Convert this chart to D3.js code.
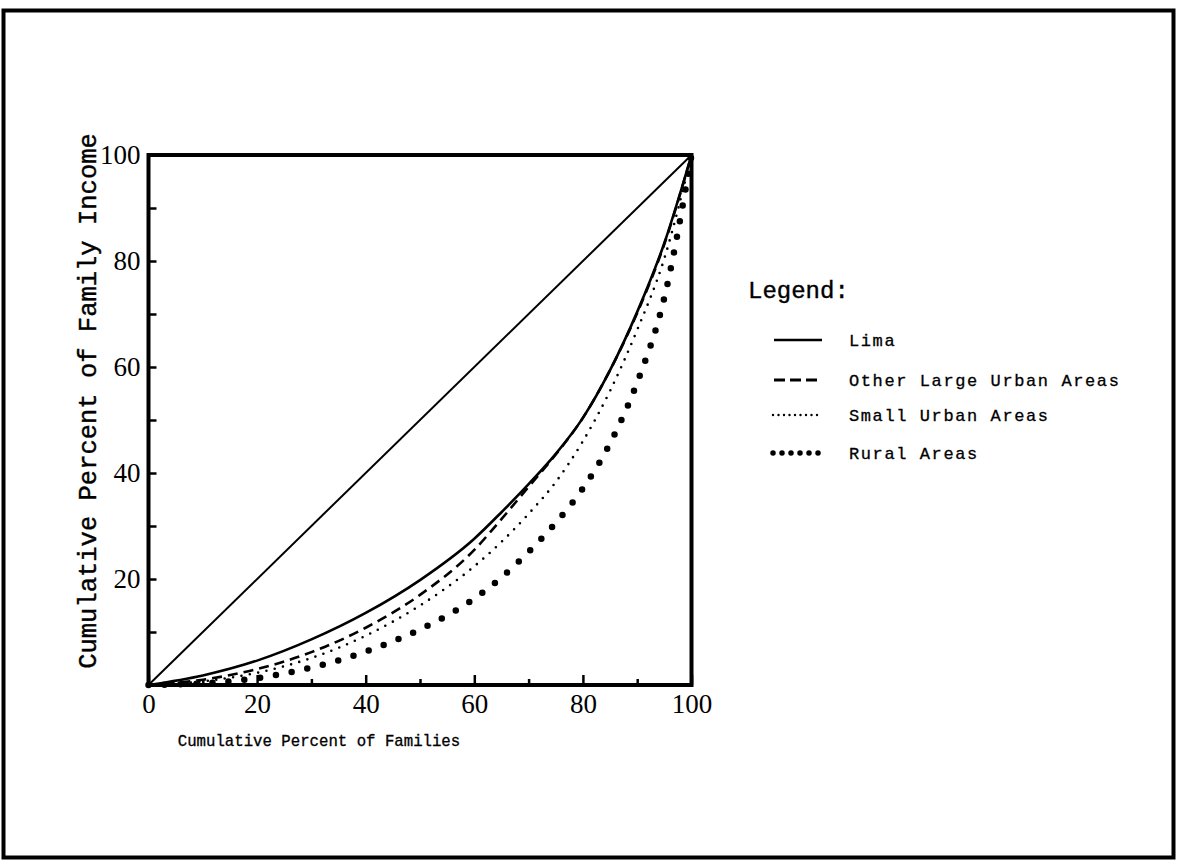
<!DOCTYPE html>
<html>
<head>
<meta charset="utf-8">
<script src="https://cdn.jsdelivr.net/npm/d3@7"></script>
<style>
  body { margin: 0; background: #fff; }
  svg { display: block; }
</style>
</head>
<body>
<div id="chart"></div>
<script>
// data
var pctFamilies      = [0, 10, 20, 30, 40, 50, 60, 65, 70, 75, 80, 85, 90, 95, 100];
var limaIncome       = [0, 1.8, 4.6, 8.6, 13.6, 19.8, 27.6, 32.6, 37.9, 43.6, 50.4, 59.4, 70.4, 83.4, 100];
var otherUrbanIncome = [0, 1, 3, 6.2, 10.8, 17, 25.5, 31.3, 37.4, 43.5, 50.4, 59.4, 70.2, 83.2, 100];
var smallUrbanIncome = [0, 0.7, 2.3, 5.1, 9.3, 15, 22.4, 27, 32.3, 38.3, 46, 55.5, 67, 80.5, 100];
var ruralIncome      = [0, 0.3, 1.3, 3.3, 6.3, 10.5, 16.3, 20.3, 25.1, 30.6, 37.1, 45.6, 57.1, 73.1, 100];
var equality         = [0, 100];

var seriesNames = ["Lima", "Other Large Urban Areas", "Small Urban Areas", "Rural Areas"];
var xTickLabels = [0, 20, 40, 60, 80, 100];
var yTickLabels = [20, 40, 60, 80, 100];

var w = 1179;
var h = 861;

var svg = d3.select("#chart")
			.append("svg")
			.attr("width", w)
			.attr("height", h);

// page frame
svg.append("rect")
   .attr("x", 3.5).attr("y", 10.5)
   .attr("width", 1170).attr("height", 847)
   .attr("fill", "none")
   .attr("stroke", "#000")
   .attr("stroke-width", 4);

var x = d3.scaleLinear().domain([0, 100]).range([148.5, 691.5]);
var y = d3.scaleLinear().domain([0, 100]).range([685, 155]);

var plot = svg.append("g");

// minor ticks, pointing inward
plot.append("g")
	.attr("transform", "translate(0," + y(0) + ")")
	.call(d3.axisBottom(x).tickValues(d3.range(10, 100, 20)).tickSize(-6).tickFormat(""))
	.call(function(g) { g.select(".domain").remove(); })
	.selectAll("line").attr("stroke-width", 2.5);

plot.append("g")
	.attr("transform", "translate(0," + y(0) + ")")
	.call(d3.axisBottom(x).tickValues(xTickLabels).tickSize(-10).tickPadding(9))
	.call(function(g) {
		g.select(".domain").remove();
		g.selectAll("line").attr("stroke-width", 2.5);
		g.selectAll("text")
		 .attr("font-family", "'Liberation Serif', serif")
		 .attr("font-size", "27px")
		 .attr("fill", "#000");
	});

plot.append("g")
	.attr("transform", "translate(" + x(0) + ",0)")
	.call(d3.axisLeft(y).tickValues(d3.range(10, 100, 10)).tickSize(-8).tickFormat(""))
	.call(function(g) { g.select(".domain").remove(); })
	.selectAll("line").attr("stroke-width", 2.5);

plot.append("g")
	.attr("transform", "translate(" + x(0) + ",0)")
	.call(d3.axisLeft(y).tickValues(yTickLabels).tickSize(0).tickPadding(8))
	.call(function(g) {
		g.select(".domain").remove();
		g.selectAll("text")
		 .attr("font-family", "'Liberation Serif', serif")
		 .attr("font-size", "27px")
		 .attr("fill", "#000");
	});

// plot box
plot.append("rect")
	.attr("x", x(0)).attr("y", y(100))
	.attr("width", x(100) - x(0)).attr("height", y(0) - y(100))
	.attr("fill", "none")
	.attr("stroke", "#000")
	.attr("stroke-width", 4);

function toPoints(xs, ys) {
	return xs.map(function(d, i) { return [d, ys[i]]; });
}

var line = d3.line()
			 .x(function(d) { return x(d[0]); })
			 .y(function(d) { return y(d[1]); })
			 .curve(d3.curveMonotoneX);

// line of equality
plot.append("path")
	.attr("d", line(toPoints(equality, equality)))
	.attr("fill", "none")
	.attr("stroke", "#000")
	.attr("stroke-width", 2);

var styles = [
	{ ys: limaIncome,       width: 2.6, dash: null,    cap: "butt",  lw: 2.6, ldash: null },
	{ ys: otherUrbanIncome, width: 2.6, dash: "10 6",  cap: "butt",  lw: 3,   ldash: "11 5" },
	{ ys: smallUrbanIncome, width: 2.6, dash: "0 8.5", cap: "round", lw: 2.4, ldash: "0 5.5" },
	{ ys: ruralIncome,      width: 6.5, dash: "0 16",  cap: "round", lw: 5.5, ldash: "0 9" }
];

styles.forEach(function(s) {
	plot.append("path")
		.attr("d", line(toPoints(pctFamilies, s.ys)))
		.attr("fill", "none")
		.attr("stroke", "#000")
		.attr("stroke-width", s.width)
		.attr("stroke-linecap", s.cap)
		.attr("stroke-dasharray", s.dash);
});

// axis titles
svg.append("text")
   .attr("x", 319).attr("y", 746)
   .attr("text-anchor", "middle")
   .attr("font-family", "'Liberation Mono', monospace")
   .attr("font-size", "15.7px")
   .attr("fill", "#000")
   .attr("stroke", "#000").attr("stroke-width", 0.3)
   .text("Cumulative Percent of Families");

svg.append("text")
   .attr("transform", "translate(96,401) rotate(-90)")
   .attr("text-anchor", "middle")
   .attr("font-family", "'Liberation Mono', monospace")
   .attr("font-size", "25.5px")
   .attr("fill", "#000")
   .attr("stroke", "#000").attr("stroke-width", 0.4)
   .text("Cumulative Percent of Family Income");

// legend
var legend = svg.append("g");

legend.append("text")
	  .attr("x", 748).attr("y", 298)
	  .attr("font-family", "'Liberation Mono', monospace")
	  .attr("font-size", "24px")
	  .attr("fill", "#000")
	  .attr("stroke", "#000").attr("stroke-width", 0.4)
	  .text("Legend:");

var legendY = [340, 380, 415, 453];

seriesNames.forEach(function(name, i) {
	var s = styles[i];
	legend.append("line")
		  .attr("x1", i < 2 ? 774 : 773).attr("x2", 822)
		  .attr("y1", legendY[i]).attr("y2", legendY[i])
		  .attr("stroke", "#000")
		  .attr("stroke-width", s.lw)
		  .attr("stroke-linecap", s.cap)
		  .attr("stroke-dasharray", s.ldash);
	legend.append("text")
		  .attr("x", 849).attr("y", legendY[i] + 6)
		  .attr("font-family", "'Liberation Mono', monospace")
		  .attr("font-size", "17px")
		  .attr("letter-spacing", "1.6px")
		  .attr("fill", "#000")
		  .attr("stroke", "#000").attr("stroke-width", 0.3)
		  .text(name);
});
</script>
</body>
</html>
